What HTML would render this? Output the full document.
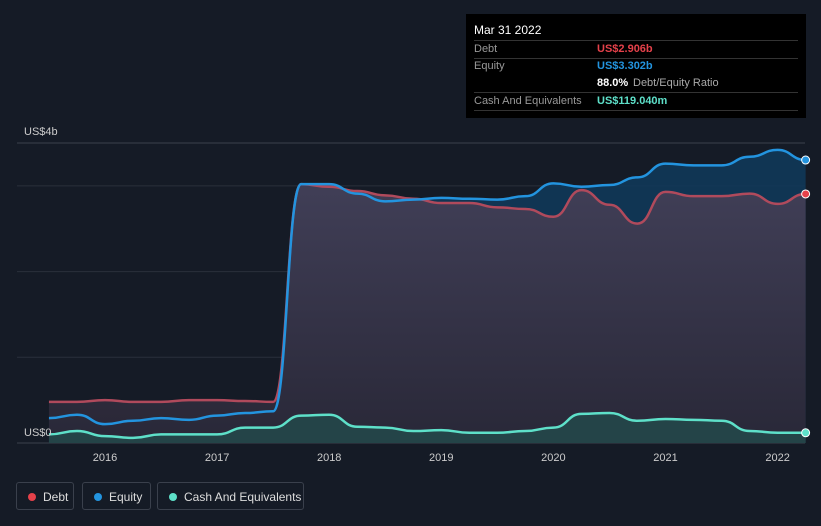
<!DOCTYPE html>
<html><head><meta charset="utf-8"><style>
body{margin:0;background:#151b26;font-family:"Liberation Sans",sans-serif;}
#wrap{position:relative;width:821px;height:526px;overflow:hidden;}
.tt{position:absolute;left:466px;top:14px;width:340px;height:104px;background:#000;color:#fff;font-size:11px}
.tt .r{position:absolute;left:8px;right:8px;border-bottom:1px solid #333;height:17px;line-height:17px}
.lg{position:absolute;top:482px;height:28px;border:1px solid #3a404c;border-radius:3px;color:#ddd;font-size:12px;line-height:28px;box-sizing:border-box;padding-left:26px}
.lg i{position:absolute;left:11px;top:10px;width:8px;height:8px;border-radius:50%}
</style></head><body><div id="wrap">
<svg id="svg" width="821" height="526" style="position:absolute;left:0;top:0">
<defs><linearGradient id="dg" x1="0" y1="0" x2="0" y2="1"><stop offset="0" stop-color="#433f57"/><stop offset="1" stop-color="#2a2736"/></linearGradient></defs>
</svg>
<div class="tt">
<div style="position:absolute;left:8px;top:9px;font-size:12px">Mar 31 2022</div>
<div class="r" style="top:26px;border-top:1px solid #333"><span style="color:#999">Debt</span><span style="position:absolute;left:123px;color:#e5414a;font-weight:bold">US$2.906b</span></div>
<div class="r" style="top:44px;border:none"><span style="color:#999">Equity</span><span style="position:absolute;left:123px;color:#2394df;font-weight:bold">US$3.302b</span></div>
<div class="r" style="top:61px"><span style="position:absolute;left:123px;font-weight:bold">88.0%</span><span style="position:absolute;left:159px;color:#aaa">Debt/Equity Ratio</span></div>
<div class="r" style="top:79px"><span style="color:#999">Cash And Equivalents</span><span style="position:absolute;left:123px;color:#5ee0c9;font-weight:bold">US$119.040m</span></div>
</div>
<div class="lg" style="left:16px;width:58px"><i style="background:#e5414a"></i>Debt</div>
<div class="lg" style="left:82px;width:69px"><i style="background:#2394df"></i>Equity</div>
<div class="lg" style="left:157px;width:147px"><i style="background:#5ee0c9"></i>Cash And Equivalents</div>
</div>
<script>
const dates=[2015.5,2015.75,2016,2016.25,2016.5,2016.75,2017,2017.25,2017.5,2017.75,2018,2018.25,2018.5,2018.75,2019,2019.25,2019.5,2019.75,2020,2020.25,2020.5,2020.75,2021,2021.25,2021.5,2021.75,2022,2022.25];
const debt=[0.48,0.48,0.50,0.48,0.48,0.50,0.50,0.49,0.48,3.02,2.99,2.94,2.89,2.85,2.80,2.80,2.75,2.73,2.64,2.95,2.78,2.56,2.93,2.88,2.88,2.91,2.79,2.906];
const equity=[0.29,0.33,0.22,0.26,0.29,0.27,0.32,0.35,0.37,3.02,3.02,2.91,2.82,2.84,2.86,2.85,2.84,2.88,3.03,2.99,3.01,3.10,3.26,3.24,3.24,3.34,3.42,3.302];
const cash=[0.10,0.14,0.08,0.06,0.10,0.10,0.10,0.18,0.18,0.32,0.33,0.19,0.18,0.14,0.15,0.12,0.12,0.14,0.18,0.34,0.35,0.26,0.28,0.27,0.26,0.14,0.12,0.119];
const years=[2016,2017,2018,2019,2020,2021,2022];
const X=d=>105+(d-2016)*112.1, Y=v=>443-v*85.7;
const svg=document.getElementById('svg');const NS='http://www.w3.org/2000/svg';
function mk(t,a,name){const e=document.createElementNS(NS,t);for(const k in a)e.setAttribute(k,a[k]);


svg.appendChild(e);return e;}
function path(vals){const p=dates.map((d,i)=>[X(d),Y(vals[i])]);let s='M'+p[0][0]+','+p[0][1];
for(let i=1;i<p.length;i++){const a=p[i-1],b=p[i],c=(a[0]+b[0])/2;s+=` C${c},${a[1]} ${c},${b[1]} ${b[0]},${b[1]}`;}return s;}
function area(vals){return path(vals)+` L${X(dates[dates.length-1])},443 L${X(dates[0])},443 Z`;}
mk('line',{x1:17,x2:805,y1:143,y2:143,stroke:'#3a404c'},'top-gridline');
[1,2,3].forEach(v=>mk('line',{x1:17,x2:805,y1:Y(v),y2:Y(v),stroke:'#2a303b'},'gridline'));
mk('line',{x1:17,x2:805,y1:443,y2:443,stroke:'#3a404c'},'x-axis');
mk('path',{d:area(equity),fill:'#0f3a5c',opacity:0.85},'equity-area');
mk('path',{d:area(debt),fill:'url(#dg)',opacity:0.95},'debt-area');
mk('path',{d:area(cash),fill:'#24474a',opacity:0.9},'cash-area');
mk('path',{d:path(debt),fill:'none',stroke:'#b04a5c','stroke-width':2.5},'debt-line');
mk('path',{d:path(equity),fill:'none',stroke:'#2394df','stroke-width':2.5},'equity-line');
mk('path',{d:path(cash),fill:'none',stroke:'#5ee0c9','stroke-width':2.5},'cash-line');
const L=dates.length-1;
[[debt,'#e5414a','debt-end-dot'],[equity,'#2394df','equity-end-dot'],[cash,'#5ee0c9','cash-end-dot']].forEach(([s,c,n])=>mk('circle',{cx:X(dates[L]),cy:Y(s[L]),r:4,fill:c,stroke:'#fff','stroke-width':1},n));
years.forEach(y=>{const t=mk('text',{x:X(y),y:461,fill:'#ccc','font-size':11,'text-anchor':'middle'},'x-tick-label');t.textContent=y;});
let t=mk('text',{x:24,y:135,fill:'#ccc','font-size':11},'y-label-top');t.textContent='US$4b';
t=mk('text',{x:24,y:436,fill:'#ccc','font-size':11},'y-label-zero');t.textContent='US$0';
</script></body></html>
